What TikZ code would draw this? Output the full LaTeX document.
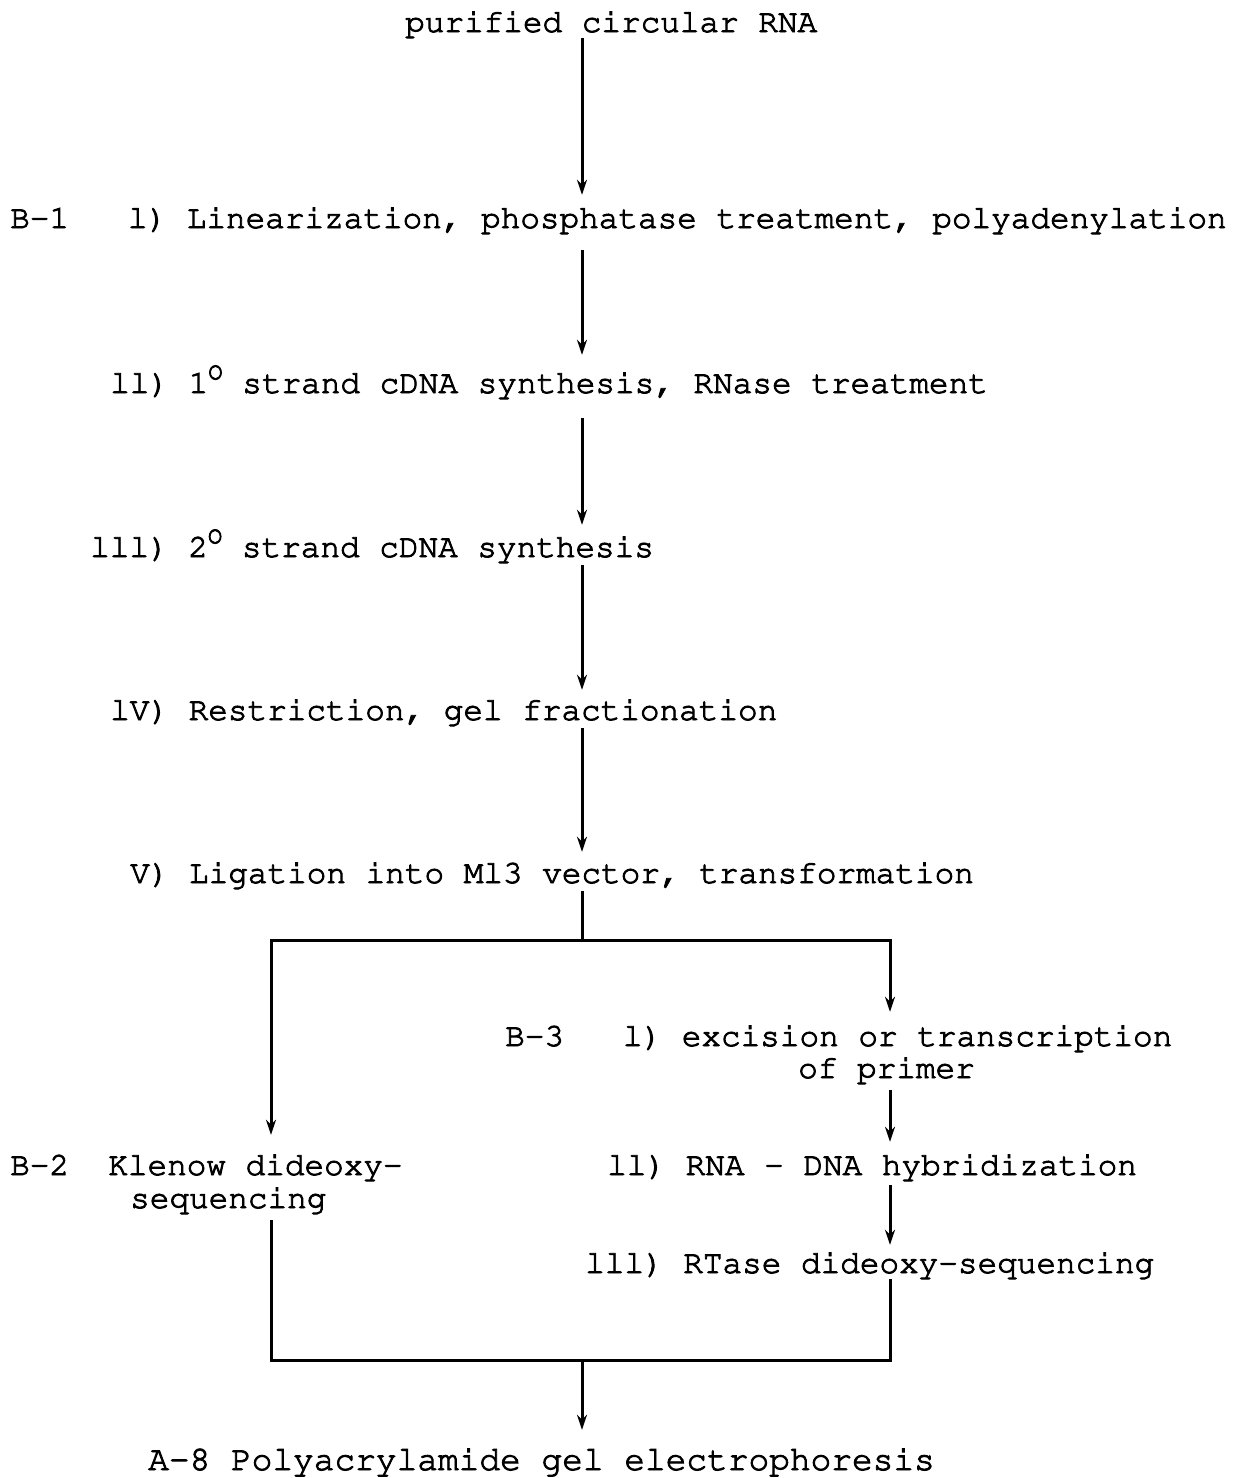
\documentclass[tikz,border=0pt]{standalone}
\usepackage[T1]{fontenc}
\usepackage{courier}
\usetikzlibrary{arrows.meta}
\newcommand{\heavy}{\special{pdf:literal direct 2 Tr 0.9 w}}
\newcommand{\degO}{\raisebox{0.42em}{\fontsize{24}{24}\selectfont O}}
\begin{document}
\begin{tikzpicture}[x=1pt,y=-1pt,
  txt/.style={anchor=base west,inner sep=0pt,text height=23pt,text depth=8pt,
    font=\ttfamily\fontsize{32.7}{39}\selectfont\heavy},
  ln/.style={line width=3pt,black},
  arr/.style={ln,-{Stealth[length=15pt,width=10pt]}}]
\useasboundingbox (0,0) rectangle (1244,1478);
\coordinate (spine) at (582,0);
\node[txt] (top) at (405,32) {purified circular RNA};
\node[txt] (b1) at (10,228) {B-1\ \ \ l) Linearization, phosphatase treatment, polyadenylation};
\node[txt] (s2) at (110,393) {ll) 1\degO{} strand cDNA synthesis, RNase treatment};
\node[txt] (s3) at (90,557) {lll) 2\degO{} strand cDNA synthesis};
\node[txt] (s4) at (110,720) {lV) Restriction, gel fractionation};
\node[txt] (s5) at (130,883) {V) Ligation into Ml3 vector, transformation};
\node[txt] (b3) at (505,1046) {B-3\ \ \ l) excision or transcription};
\node[txt] (b3b) at (798,1078) {of primer};
\node[txt] (b3c) at (607,1175) {ll) RNA - DNA hybridization};
\node[txt] (b3d) at (585,1273) {lll) RTase dideoxy-sequencing};
\node[txt] (b2) at (10,1175) {B-2\ \ Klenow dideoxy-};
\node[txt] (b2b) at (130,1208) {sequencing};
\node[txt,font=\ttfamily\fontsize{34.5}{40}\selectfont\heavy] (a8) at (148,1470) {A-8 Polyacrylamide gel electrophoresis};
% main spine
\draw[arr,shorten <=-2pt,shorten >=10pt] (top.south -| spine) -- (b1.north -| spine);
\draw[arr,shorten <=14pt,shorten >=15pt] (b1.south -| spine) -- (s2.north -| spine);
\draw[arr,shorten <=17pt,shorten >=9pt] (s2.south -| spine) -- (s3.north -| spine);
\draw[arr,shorten >=7pt] (s3.south -| spine) -- (s4.north -| spine);
\draw[arr,shorten >=8pt] (s4.south -| spine) -- (s5.north -| spine);
% branch
\coordinate (jl) at (271,940);
\coordinate (jm) at (582,940);
\coordinate (jr) at (890,940);
\draw[ln] (s5.south -| jm) -- (jm);
\draw[ln,line cap=rect] (jl) -- (jr);
\draw[arr,shorten >=17pt] ([yshift=-1.5pt]jl) -- (b2.north -| jl);
\draw[arr,shorten >=11pt] ([yshift=-1.5pt]jr) -- (b3.north -| jr);
\draw[arr,shorten <=4pt,shorten >=10pt] (b3b.south -| jr) -- (b3c.north -| jr);
\draw[arr,shorten <=2pt,shorten >=5pt] (b3c.south -| jr) -- (b3d.north -| jr);
% merge
\coordinate (kl) at (271,1360);
\coordinate (km) at (582,1360);
\coordinate (kr) at (890,1360);
\draw[ln,line join=miter] (b2b.south -| kl) ++(0,4) -- (kl) -- (kr) -- ([yshift=2pt]b3d.south -| kr);
\draw[arr,shorten >=17pt] (km) -- (a8.north -| km);
\end{tikzpicture}
\end{document}
